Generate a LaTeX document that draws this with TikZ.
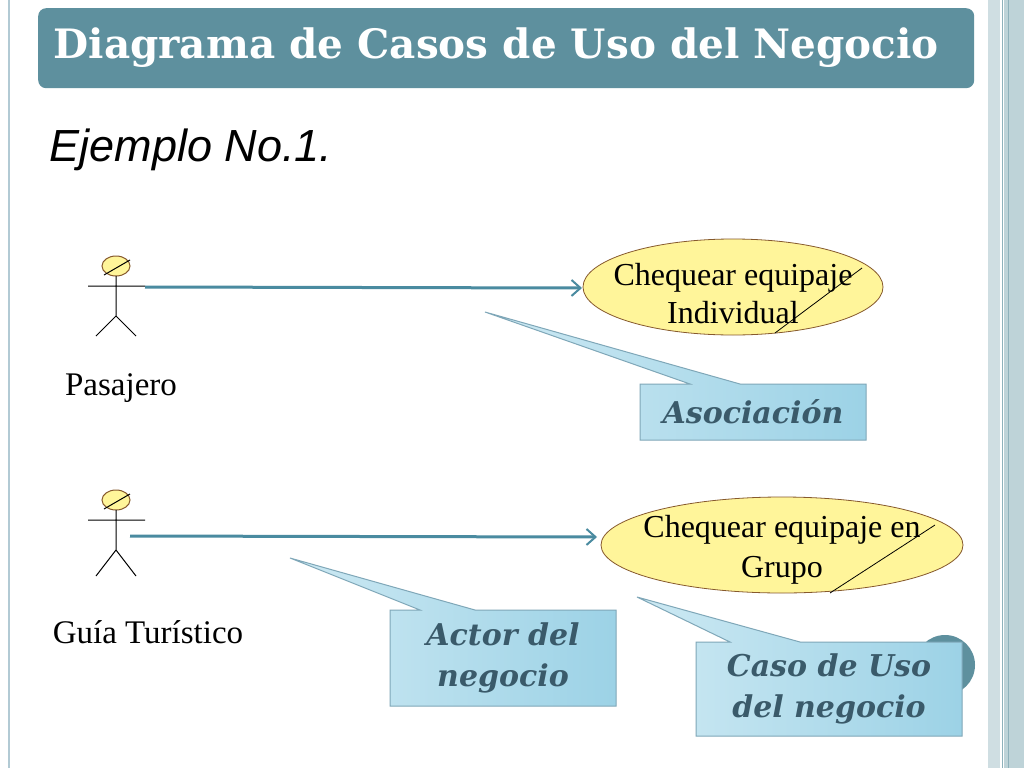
\documentclass[tikz,border=0pt]{standalone}
\usepackage{fontspec}
\setmainfont{Liberation Serif}
\newfontfamily\sansf{Liberation Sans}
\newfontfamily\geo{DejaVu Serif}
\begin{document}
\begin{tikzpicture}[x=1pt,y=-1pt,
 act/.style={line width=1pt,black},
 uc/.style={ellipse,draw=brown!70!black,fill=ucy,line width=0.8pt},
 assoc/.style={draw=arrc,line width=3pt,->,>={Straight Barb[length=9pt,width=16pt,line width=2pt]}},
 callout/.style={draw=calb,line width=1pt,left color=calL,right color=calR},
 ctext/.style={font=\geo\bfseries\itshape\fontsize{30}{41}\selectfont,text=cText,align=center}]
\usetikzlibrary{shapes.geometric,arrows.meta}
\definecolor{tealc}{HTML}{5E909E}
\definecolor{ucy}{HTML}{FFF59A}
\definecolor{arrc}{HTML}{4A8BA0}
\definecolor{calb}{HTML}{7FA7B8}
\definecolor{calL}{HTML}{CDE9F3}
\definecolor{calR}{HTML}{9CD2E6}
\definecolor{cText}{HTML}{3A5A6A}
\useasboundingbox (0,0) rectangle (1024,768);
\fill[white] (0,0) rectangle (1024,768);
% borders
\draw[calb!60,line width=1.5pt] (9,0) -- (9,768);
\fill[tealc!30] (988,0) rectangle (1000,768);
\fill[tealc!40] (1004,0) rectangle (1024,768);
\draw[tealc!70,line width=1pt] (1002,0) -- (1002,768) (1008,0)--(1008,768);
% title
\node[draw=none,fill=tealc,rounded corners=8pt,minimum width=936pt,minimum height=80pt,anchor=north west] (title) at (38,8) {};
\node[anchor=west,text=white,font=\geo\bfseries\fontsize{40.5}{44}\selectfont] (tt) at (50,48) {Diagrama de Casos de Uso del Negocio};
\node[anchor=west,font=\sansf\itshape\fontsize{45}{50}\selectfont] (ej) at (46,150) {Ejemplo No.1.};
% circle behind
\fill[tealc] (945,665) circle (30);
% actor 1
\draw[act,fill=ucy,draw=brown!70!black] (116,266) ellipse (14 and 10);
\draw[act] (104,275) -- (130,260);
\draw[act] (116,276) -- (116,316) (88,286) -- (145,286) (96,336) -- (116,316) -- (136,336);
\coordinate (a1) at (145,287);
\coordinate (e1) at (582,288);
\node[font=\fontsize{33}{36}\selectfont] (p) at (121,388) {Pasajero};
% actor 2
\draw[act,fill=ucy,draw=brown!70!black] (116,500) ellipse (14 and 10);
\draw[act] (104,509) -- (130,494);
\draw[act] (116,510) -- (116,550) (88,520) -- (145,520) (96,576) -- (116,550) -- (136,576);
\coordinate (a2) at (130,536);
\coordinate (e2) at (597,537);
\node[font=\fontsize{33}{36}\selectfont] (g) at (148,632) {Guía Turístico};
% use cases
\node[uc,minimum width=300pt,minimum height=96pt] (u1) at (733,287) {};
\node[align=center,font=\fontsize{32}{38}\selectfont] (t1) at (733,294) {Chequear equipaje\\Individual};
\draw[line width=0.8pt] (775,333) -- (862,268);
\node[uc,minimum width=362pt,minimum height=96pt] (u2) at (782,545) {};
\node[align=center,font=\fontsize{32}{40}\selectfont] (t2) at (782,550) {Chequear equipaje en\\Grupo};
\draw[line width=0.8pt] (830,593) -- (935,525);
\draw[assoc] (a1) -- (e1);
\draw[assoc] (a2) -- (e2);
% callouts
\draw[callout] (640,384) -- (690,384) -- (485,312) -- (740,384) -- (866,384) -- (866,440) -- (640,440) -- cycle;
\node[ctext] (c1) at (753,412) {Asociación};
\draw[callout] (390,610) -- (420,610) -- (290,558) -- (475,610) -- (616,610) -- (616,706) -- (390,706) -- cycle;
\node[ctext] (c2) at (503,658) {Actor del\\negocio};
\draw[callout] (696,642) -- (730,642) -- (637,597) -- (800,642) -- (962,642) -- (962,736) -- (696,736) -- cycle;
\node[ctext] (c3) at (829,689) {Caso de Uso\\del negocio};
\end{tikzpicture}
\end{document}
